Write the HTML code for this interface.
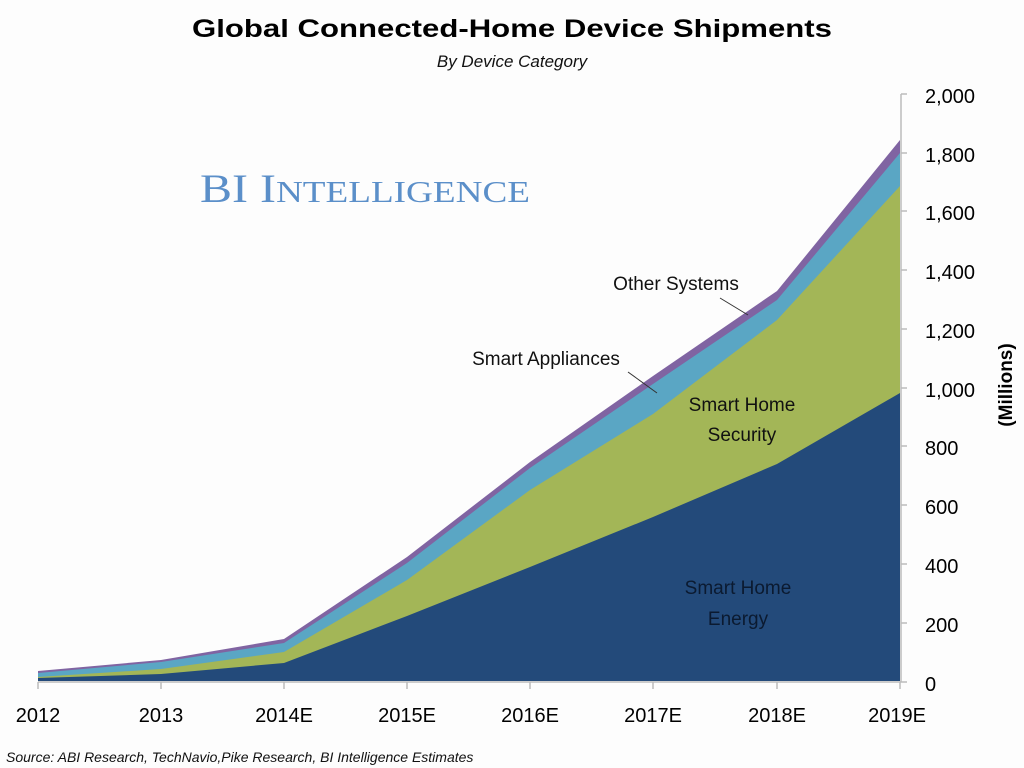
<!DOCTYPE html>
<html><head><meta charset="utf-8"><style>
body{margin:0;background:#fff;}
svg{display:block;font-family:"Liberation Sans",sans-serif;}
</style></head><body>
<svg width="1024" height="768" viewBox="0 0 1024 768">
<rect width="1024" height="768" fill="#fdfdfd"/>
<text x="512" y="37" text-anchor="middle" font-size="25" font-weight="bold" fill="#000" textLength="640" lengthAdjust="spacingAndGlyphs">Global Connected-Home Device Shipments</text>
<text x="512" y="67" text-anchor="middle" font-size="17" font-style="italic" fill="#111">By Device Category</text>
<text x="200" y="202" font-family="Liberation Serif,serif" font-size="40" fill="#5b8fc9" textLength="330" lengthAdjust="spacingAndGlyphs">BI I<tspan font-size="31">NTELLIGENCE</tspan></text>
<!-- areas -->
<polygon fill="#8064a2" points="38,671 161,660 284,639 407,557 530,462 653,376 777,291 900,140 900,681 38,681"/>
<polygon fill="#5aa6c4" points="38,673 161,662 284,643 407,563 530,468 653,384 777,300 900,153 900,681 38,681"/>
<polygon fill="#a3b657" points="38,677 161,669 284,652 407,580 530,490 653,414 777,320 900,186 900,681 38,681"/>
<polygon fill="#234a7a" points="38,678 161,674 284,663 407,616 530,567 653,517 777,464 900,393 900,681 38,681"/>
<!-- axes -->
<line x1="38" y1="682" x2="901" y2="682" stroke="#bbb" stroke-width="1.5"/>
<line x1="901" y1="94" x2="901" y2="682" stroke="#bbb" stroke-width="1.5"/>
<g stroke="#bbb" stroke-width="1.5">
<line x1="38" y1="682" x2="38" y2="689"/><line x1="161" y1="682" x2="161" y2="689"/><line x1="284" y1="682" x2="284" y2="689"/><line x1="407" y1="682" x2="407" y2="689"/><line x1="530" y1="682" x2="530" y2="689"/><line x1="653" y1="682" x2="653" y2="689"/><line x1="777" y1="682" x2="777" y2="689"/><line x1="900" y1="682" x2="900" y2="689"/>
<line x1="901" y1="94" x2="907" y2="94"/><line x1="901" y1="153" x2="907" y2="153"/><line x1="901" y1="211" x2="907" y2="211"/><line x1="901" y1="270" x2="907" y2="270"/><line x1="901" y1="329" x2="907" y2="329"/><line x1="901" y1="388" x2="907" y2="388"/><line x1="901" y1="446" x2="907" y2="446"/><line x1="901" y1="505" x2="907" y2="505"/><line x1="901" y1="564" x2="907" y2="564"/><line x1="901" y1="623" x2="907" y2="623"/><line x1="901" y1="682" x2="907" y2="682"/>
</g>
<g font-size="20" fill="#000">
<text x="925" y="103">2,000</text><text x="925" y="162">1,800</text><text x="925" y="220">1,600</text><text x="925" y="279">1,400</text><text x="925" y="338">1,200</text><text x="925" y="397">1,000</text><text x="925" y="455">800</text><text x="925" y="514">600</text><text x="925" y="573">400</text><text x="925" y="632">200</text><text x="925" y="691">0</text>
</g>
<text transform="translate(1012,385) rotate(-90)" text-anchor="middle" font-size="19" font-weight="bold">(Millions)</text>
<g font-size="20" fill="#000" text-anchor="middle">
<text x="38" y="722">2012</text><text x="161" y="722">2013</text><text x="284" y="722">2014E</text><text x="407" y="722">2015E</text><text x="530" y="722">2016E</text><text x="653" y="722">2017E</text><text x="777" y="722">2018E</text><text x="897" y="722">2019E</text>
</g>
<text x="6" y="762" font-size="14" font-style="italic" fill="#111">Source: ABI Research, TechNavio,Pike Research, BI Intelligence Estimates</text>
<g font-size="19" fill="#111" text-anchor="middle">
<text x="676" y="290">Other Systems</text>
<text x="546" y="365">Smart Appliances</text>
<text x="742" y="411">Smart Home</text><text x="742" y="441">Security</text>
</g>
<g font-size="19" fill="#0b1a30" text-anchor="middle">
<text x="738" y="594">Smart Home</text><text x="738" y="625">Energy</text>
</g>
<line x1="720" y1="298" x2="748" y2="315" stroke="#333" stroke-width="1"/>
<line x1="628" y1="372" x2="657" y2="393" stroke="#333" stroke-width="1"/>
</svg>
</body></html>
